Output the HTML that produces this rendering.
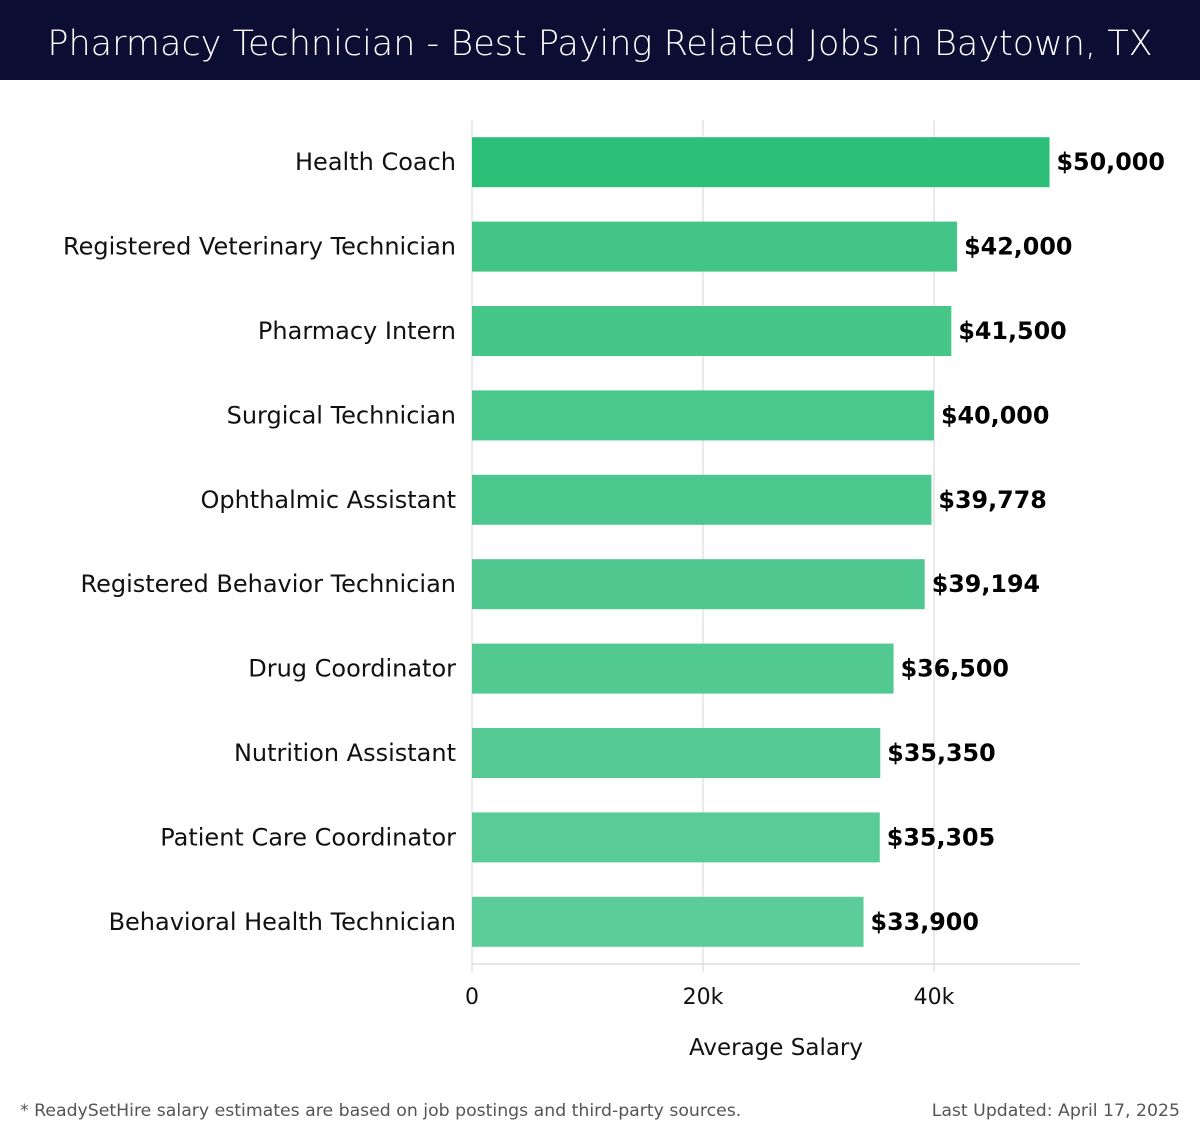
<!DOCTYPE html>
<html><head><meta charset="utf-8"><style>
body{margin:0;width:1200px;height:1140px;background:#fff;overflow:hidden;font-family:"Liberation Sans","DejaVu Sans",sans-serif}
#hdr{position:absolute;left:0;top:0;width:1200px;height:80px;background:#0c0d33;color:#fff;font-size:35px;text-align:center;line-height:88px;font-family:"DejaVu Sans","Liberation Sans",sans-serif;font-weight:300}
.foot{position:absolute;top:1101px;font-size:17.3px;color:#555;font-family:"DejaVu Sans","Liberation Sans",sans-serif}
</style></head><body>
<div id="hdr">Pharmacy Technician - Best Paying Related Jobs in Baytown, TX</div>
<svg id="chart" width="1200" height="1140" style="position:absolute;left:0;top:0;font-family:'DejaVu Sans','Liberation Sans',sans-serif"></svg>
<div class="foot" style="left:20px">* ReadySetHire salary estimates are based on job postings and third-party sources.</div>
<div class="foot" style="right:20px">Last Updated: April 17, 2025</div>
<script>
const categories=["Health Coach","Registered Veterinary Technician","Pharmacy Intern","Surgical Technician","Ophthalmic Assistant","Registered Behavior Technician","Drug Coordinator","Nutrition Assistant","Patient Care Coordinator","Behavioral Health Technician"];
const salaries=[50000,42000,41500,40000,39778,39194,36500,35350,35305,33900];
const valueLabels=["$50,000","$42,000","$41,500","$40,000","$39,778","$39,194","$36,500","$35,350","$35,305","$33,900"];
const tickValues=[0,20000,40000];
const tickLabels=["0","20k","40k"];

const NS="http://www.w3.org/2000/svg";
const svg=document.getElementById('chart');
const x0=472,pxPer=231/20000,top0=120,bottom0=964;
const xs=v=>x0+v*pxPer;
const band=(bottom0-top0)/categories.length;
const ys=i=>top0+band*i+band/2;
function mk(t,a){const e=document.createElementNS(NS,t);for(const k in a)e.setAttribute(k,a[k]);svg.appendChild(e);return e;}
tickValues.forEach((v,i)=>{
  const g=mk('line',{x1:xs(v),x2:xs(v),y1:top0,y2:972,stroke:'#e4e4e4','stroke-width':1.5});
  
  
  const t=mk('text',{x:xs(v),y:1004,'text-anchor':'middle','font-size':22,fill:'#111'});
  t.textContent=tickLabels[i];
  
  
});
const ax=mk('line',{x1:x0,x2:1080,y1:bottom0,y2:bottom0,stroke:'#ddd','stroke-width':1.5});


const at=mk('text',{x:776,y:1055,'text-anchor':'middle','font-size':23,fill:'#111'});
at.textContent='Average Salary';


const c0=[64,196,133],c1=[92,204,153];
categories.forEach((c,i)=>{
  const f=i/(categories.length-1);
  const col=i===0?'rgb(43,191,119)':'rgb('+c0.map((v,k)=>Math.round(v+(c1[k]-v)*f)).join(',')+')';
  const y=ys(i);
  const r=mk('rect',{x:x0,y:y-25,width:xs(salaries[i])-x0,height:50,fill:col});
  
  
  const l=mk('text',{x:456,y:y+8,'text-anchor':'end','font-size':24,fill:'#111'});
  l.textContent=c;
  
  
  const v=mk('text',{x:xs(salaries[i])+7,y:y+8,'font-size':23.8,'font-weight':'bold',fill:'#000'});
  v.textContent=valueLabels[i];
  
  
});
</script>
</body></html>
